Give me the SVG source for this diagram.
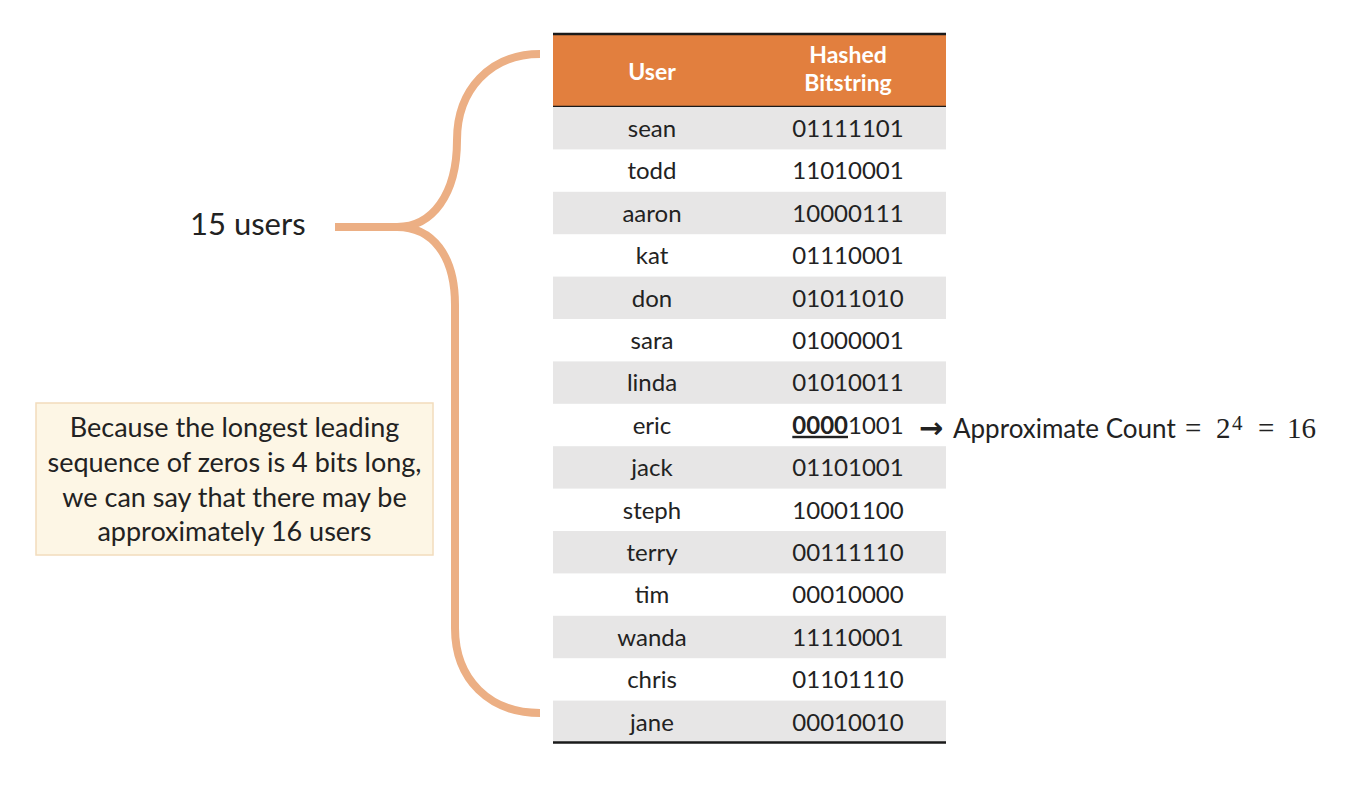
<svg xmlns="http://www.w3.org/2000/svg" width="1358" height="786" viewBox="0 0 1358 786">
<style>
  .t { font-family: Lato, "Open Sans", "Liberation Sans", sans-serif; fill: #222; }
  .cell { font-size: 24px; text-anchor: middle; }
  .hd { font-family: Lato, "Liberation Sans", sans-serif; font-weight: bold; font-size: 23px; fill: #fff; text-anchor: middle; }
  .shade { fill: #E7E6E6; }
  .rule { stroke: #1a1a1a; stroke-width: 2.5; }
  .brace { fill: none; stroke: #ECAF84; stroke-width: 8; stroke-linejoin: round; }
  .box { fill: #FDF6E5; stroke: #F2DCBC; stroke-width: 1.5; }
  .note { font-size: 27px; text-anchor: middle; }
  .math { font-family: "Liberation Serif", "DejaVu Serif", serif; fill: #222; }
</style>

<g id="connectors">
  <path class="brace" d="M 540 54 C 490 54 457 90 457 140 C 457 195 432 227 397 227 C 432 227 455 255 455 305 L 455 628 C 455 680 490 713 540 713"/>
  <path class="brace" d="M 335 227 H 398"/>
</g>

<g id="label-15-users">
  <text class="t" x="190" y="235" font-size="31">15 users</text>
</g>

<g id="note">
  <rect class="box" x="36" y="403" width="397" height="152"/>
  <text class="t note" x="234.5" y="437">Because the longest leading</text>
  <text class="t note" x="234.5" y="472">sequence of zeros is 4 bits long,</text>
  <text class="t note" x="234.5" y="507">we can say that there may be</text>
  <text class="t note" x="234.5" y="541">approximately 16 users</text>
</g>

<g id="table">
  <g id="header">
    <rect x="553" y="34" width="393" height="72" fill="#E27F3E"/>
    <line class="rule" x1="553" y1="34" x2="946" y2="34"/>
    <line class="rule" x1="553" y1="107" x2="946" y2="107"/>
    <text class="hd" x="652" y="80">User</text>
    <text class="hd" x="848" y="63">Hashed</text>
    <text class="hd" x="848" y="91">Bitstring</text>
  </g>
  <g id="row-sean" transform="translate(0,107)"><rect class="shade" x="553" y="0" width="393" height="42.4"/><text class="t cell" x="652" y="30">sean</text><text class="t cell" x="848" y="30">01111101</text></g>
  <g id="row-todd" transform="translate(0,149.4)"><text class="t cell" x="652" y="30">todd</text><text class="t cell" x="848" y="30">11010001</text></g>
  <g id="row-aaron" transform="translate(0,191.8)"><rect class="shade" x="553" y="0" width="393" height="42.4"/><text class="t cell" x="652" y="30">aaron</text><text class="t cell" x="848" y="30">10000111</text></g>
  <g id="row-kat" transform="translate(0,234.2)"><text class="t cell" x="652" y="30">kat</text><text class="t cell" x="848" y="30">01110001</text></g>
  <g id="row-don" transform="translate(0,276.6)"><rect class="shade" x="553" y="0" width="393" height="42.4"/><text class="t cell" x="652" y="30">don</text><text class="t cell" x="848" y="30">01011010</text></g>
  <g id="row-sara" transform="translate(0,319)"><text class="t cell" x="652" y="30">sara</text><text class="t cell" x="848" y="30">01000001</text></g>
  <g id="row-linda" transform="translate(0,361.4)"><rect class="shade" x="553" y="0" width="393" height="42.4"/><text class="t cell" x="652" y="30">linda</text><text class="t cell" x="848" y="30">01010011</text></g>
  <g id="row-eric" transform="translate(0,403.8)"><text class="t cell" x="652" y="30">eric</text><text class="t cell" x="848" y="30"><tspan font-weight="bold" text-decoration="underline">0000</tspan>1001</text></g>
  <g id="row-jack" transform="translate(0,446.2)"><rect class="shade" x="553" y="0" width="393" height="42.4"/><text class="t cell" x="652" y="30">jack</text><text class="t cell" x="848" y="30">01101001</text></g>
  <g id="row-steph" transform="translate(0,488.6)"><text class="t cell" x="652" y="30">steph</text><text class="t cell" x="848" y="30">10001100</text></g>
  <g id="row-terry" transform="translate(0,531)"><rect class="shade" x="553" y="0" width="393" height="42.4"/><text class="t cell" x="652" y="30">terry</text><text class="t cell" x="848" y="30">00111110</text></g>
  <g id="row-tim" transform="translate(0,573.4)"><text class="t cell" x="652" y="30">tim</text><text class="t cell" x="848" y="30">00010000</text></g>
  <g id="row-wanda" transform="translate(0,615.8)"><rect class="shade" x="553" y="0" width="393" height="42.4"/><text class="t cell" x="652" y="30">wanda</text><text class="t cell" x="848" y="30">11110001</text></g>
  <g id="row-chris" transform="translate(0,658.2)"><text class="t cell" x="652" y="30">chris</text><text class="t cell" x="848" y="30">01101110</text></g>
  <g id="row-jane" transform="translate(0,700.6)"><rect class="shade" x="553" y="0" width="393" height="42.4"/><text class="t cell" x="652" y="30">jane</text><text class="t cell" x="848" y="30">00010010</text></g>
  <line class="rule" x1="553" y1="742.5" x2="946" y2="742.5"/>
</g>

<g id="approx-count">
  <text x="919" y="438" font-size="29" font-weight="bold" fill="#222" font-family="'DejaVu Sans', sans-serif">→</text>
  <text class="t" x="953" y="438" font-size="26">Approximate Count</text>
  <text class="math" y="438" font-size="29"><tspan x="1185">=</tspan><tspan x="1216">2</tspan><tspan x="1232" y="430" font-size="21">4</tspan><tspan x="1258" y="438">=</tspan><tspan x="1287">16</tspan></text>
</g>
</svg>
